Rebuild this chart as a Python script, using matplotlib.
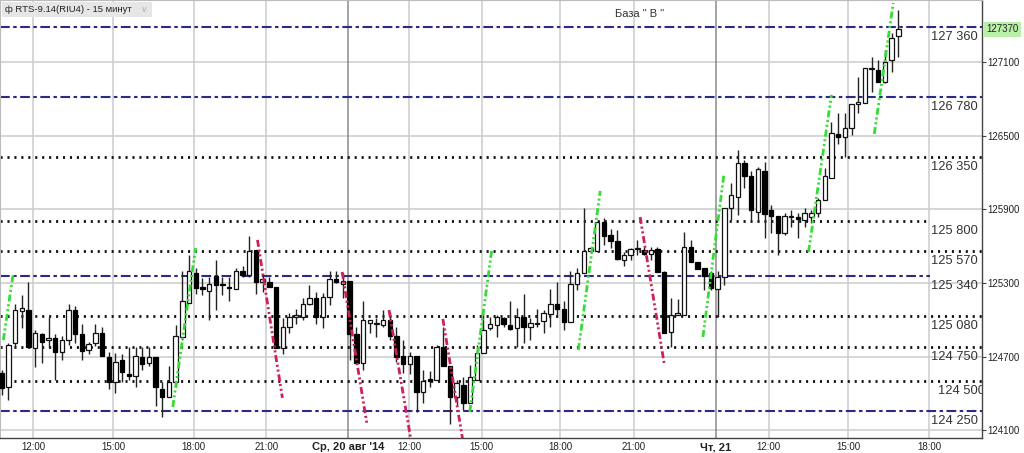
import numpy as np
import matplotlib
matplotlib.use("Agg")
import matplotlib.pyplot as plt
from matplotlib.patches import Rectangle

plt.rcParams['lines.scale_dashes'] = False

# 15-minute candles, RTS-9.14 (RIU4)
opens = [124565, 124450, 124815, 125075, 125080, 124770, 124885, 124835, 124855, 124735,
         124835, 125080, 124885, 124755, 124815, 124895, 124700, 124495, 124675, 124550,
         124545, 124700, 124645, 124700, 124435, 124375, 124495, 124860, 125135, 125385,
         125260, 125235, 125360, 125290, 125265, 125250, 125395, 125365, 125570, 125310,
         125310, 125265, 124770, 124945, 125020, 125020, 125130, 125175, 125020, 125185,
         125330, 125295, 125315, 124885, 124650, 124975, 124965, 124960, 124995, 124865,
         124705, 124640, 124705, 124415, 124510, 124510, 124780, 124620, 124375, 124470,
         124325, 124510, 124730, 124930, 124960, 125015, 124960, 124935, 125020, 124945,
         124965, 124990, 125045, 125130, 125090, 124985, 125295, 125385, 125565, 125565,
         125800, 125690, 125640, 125490, 125530, 125575, 125570, 125535, 125580, 125390,
         124905, 125040, 125040, 125595, 125475, 125420, 125380, 125250, 125350, 125910,
         126005, 126275, 126170, 125880, 126215, 125895, 125845, 125710, 125840, 125840,
         125815, 125840, 125870, 125980, 126160, 126515, 126495, 126565, 126760, 126770,
         127045, 127035, 126940, 127115, 127315]
highs = [124590, 124810, 125130, 125205, 125310, 124920, 124895, 125025, 124885, 124865,
         125130, 125110, 124965, 124820, 124965, 124940, 124735, 124730, 124720, 124775,
         124780, 124780, 124780, 124700, 124495, 124625, 124960, 125395, 125530, 125425,
         125340, 125350, 125490, 125350, 125350, 125420, 125440, 125685, 125570, 125365,
         125350, 125265, 125015, 125055, 125090, 125175, 125285, 125230, 125220, 125395,
         125395, 125380, 125315, 124945, 125150, 125000, 125015, 125080, 125065, 124945,
         124835, 124740, 124705, 124590, 124580, 124795, 124945, 124620, 124510, 124535,
         124635, 124795, 125055, 125020, 125040, 125020, 125150, 125095, 125210, 125015,
         125085, 125080, 125250, 125310, 125150, 125395, 125425, 125910, 125595, 125800,
         125830, 125740, 125735, 125555, 125590, 125655, 125595, 125595, 125595, 125400,
         125175, 125170, 125720, 125650, 125475, 125420, 125395, 125395, 125910, 126115,
         126385, 126305, 126210, 126250, 126290, 125935, 125845, 125870, 125895, 125870,
         125910, 125895, 125995, 126235, 126615, 126685, 126690, 126760, 126980, 127050,
         127145, 127120, 127200, 127335, 127530]
lows = [124390, 124345, 124780, 124935, 124775, 124615, 124645, 124770, 124510, 124675,
        124795, 124810, 124675, 124720, 124790, 124705, 124435, 124400, 124490, 124510,
        124455, 124590, 124620, 124295, 124210, 124375, 124455, 124835, 125135, 125215,
        125205, 124995, 125080, 125205, 125155, 125250, 125350, 125350, 125210, 125230,
        125265, 124770, 124720, 124890, 124965, 125000, 125120, 124970, 124930, 125120,
        125300, 125175, 124675, 124650, 124590, 124890, 124860, 124945, 124835, 124660,
        124565, 124560, 124250, 124325, 124455, 124510, 124620, 124155, 124305, 124265,
        124325, 124510, 124730, 124920, 124860, 124945, 124920, 124780, 124810, 124835,
        124945, 124890, 124945, 125020, 124920, 124985, 125245, 125385, 125545, 125565,
        125610, 125585, 125490, 125440, 125490, 125530, 125530, 125490, 125390, 124895,
        124780, 125040, 125040, 125475, 125415, 125245, 125245, 125025, 125285, 125815,
        125855, 126075, 125815, 125800, 125665, 125705, 125530, 125690, 125760, 125665,
        125760, 125790, 125840, 125980, 126160, 126435, 126330, 126510, 126690, 126770,
        126860, 126940, 126935, 127025, 127145]
closes = [124445, 124795, 125080, 125095, 124775, 124895, 124820, 124855, 124735, 124835,
          125080, 124885, 124750, 124800, 124895, 124705, 124490, 124655, 124575, 124545,
          124705, 124640, 124700, 124450, 124375, 124495, 124865, 125150, 125395, 125260,
          125255, 125290, 125285, 125285, 125260, 125395, 125365, 125565, 125310, 125330,
          125265, 124770, 124945, 125020, 125040, 125130, 125175, 125020, 125185, 125330,
          125310, 125315, 124885, 124650, 124995, 124995, 124965, 125000, 124865, 124700,
          124640, 124705, 124415, 124505, 124505, 124780, 124620, 124375, 124485, 124325,
          124535, 124730, 124920, 124965, 125020, 124965, 124925, 125020, 124940, 124975,
          124965, 125055, 125130, 125090, 124985, 125295, 125385, 125565, 125585, 125800,
          125680, 125640, 125500, 125530, 125575, 125575, 125535, 125570, 125390, 124895,
          125040, 125055, 125595, 125475, 125415, 125360, 125260, 125350, 125910, 126020,
          126275, 126175, 125895, 126230, 125865, 125845, 125710, 125845, 125840, 125820,
          125870, 125870, 125980, 126170, 126525, 126490, 126565, 126760, 126780, 127050,
          127045, 126940, 127105, 127295, 127370]

# support / resistance levels
dotted_levels = [126331, 125804, 125562, 125032, 124779, 124502]
dotted_labels = ["126 350", "125 800", "125 570", "125 080", "124 750", "124 500"]
dotted_full = [True, False, True, True, True, True]
dashdot_levels = [127388, 126815, 125358, 124257]
dashdot_labels = ["127 360", "126 780", "125 340", "124 250"]
dashdot_full = [True, True, False, True]

# trend segments (candle index, price)
green_lines = [(0.25, 124836, 1.74, 125383), (25.57, 124290, 28.99, 125586),
               (69.95, 124249, 73.22, 125562), (86.18, 124755, 89.45, 126051),
               (104.8, 124861, 107.92, 126181), (120.58, 125554, 124.0, 126834),
               (130.4, 126516, 133.24, 127584)]
red_lines = [(38.23, 125652, 41.95, 124364), (50.88, 125391, 54.61, 124143),
             (57.88, 125081, 61.16, 124021), (65.93, 125008, 68.9, 124021),
             (95.41, 125839, 98.99, 124649)]

time_ticks = [4.72, 16.63, 28.7, 39.57, 51.78, 60.86, 71.74, 83.5, 94.5, 106.73, 114.6, 126.5, 138.6]
time_labels = ["12:00", "15:00", "18:00", "21:00", "Ср, 20 авг '14", "12:00", "15:00",
               "18:00", "21:00", "Чт, 21", "12:00", "15:00", "18:00"]
day_ticks = [51.78, 106.73]
price_ticks = [124100, 124700, 125300, 125900, 126500, 127100]
last_price = 127370

fig = plt.figure(figsize=(10.24, 4.53), dpi=100)
ax = fig.add_axes([0, 15 / 453, 982 / 1024, 438 / 453])
ax.set_xlim(-0.25, 146.5)
ax.set_ylim(124037, 127608)

# grid
for p in price_ticks:
    ax.axhline(p, color='#cccccc', lw=1.1, zorder=0)
for t in time_ticks:
    col = '#8a8a8a' if t in day_ticks else '#cccccc'
    ax.axvline(t, color=col, lw=1.1, zorder=0)

# level lines
for lvl, lab, full in zip(dotted_levels, dotted_labels, dotted_full):
    ax.axhline(lvl, xmax=1.0 if full else 0.947, color='#111111', lw=2.0,
               linestyle=(0, (1.5, 3.5)), zorder=1)
    ha, xx = ('left', 139.9) if lab == "124 500" else ('right', 145.9)
    ax.annotate(lab, (xx, lvl), xytext=(0, -7.3), textcoords='offset points', ha=ha,
                va='center', fontsize=9.3, color='#333333', family='Liberation Sans',
                annotation_clip=False, clip_on=True)
for lvl, lab, full in zip(dashdot_levels, dashdot_labels, dashdot_full):
    ax.axhline(lvl, xmax=1.0 if full else 0.947, color='#2b2b86', lw=1.5,
               linestyle=(0, (7, 2.5, 2.5, 2.5)), zorder=1)
    ax.annotate(lab, (145.9, lvl), xytext=(0, -7.3), textcoords='offset points', ha='right',
                va='center', fontsize=9.3, color='#333333', family='Liberation Sans')

# candles
idx = np.arange(len(opens))
o = np.array(opens); h = np.array(highs); l = np.array(lows); c = np.array(closes)
ax.vlines(idx, l, h, color='#222222', lw=1.0, zorder=2)
up = c >= o
bottom = np.minimum(o, c)
height = np.maximum(np.abs(c - o), 10)
ax.bar(idx[up], height[up], bottom=bottom[up], width=0.66, color='white',
       edgecolor='#111111', lw=0.9, zorder=3)
ax.bar(idx[~up], height[~up], bottom=bottom[~up], width=0.66, color='black',
       edgecolor='black', lw=0.9, zorder=3)

# trend lines
for x1, y1, x2, y2 in green_lines:
    ax.plot([x1, x2], [y1, y2], color='#33dd33', lw=2.0,
            linestyle=(0, (5, 2, 1.5, 2, 1.5, 2)), zorder=4)
for x1, y1, x2, y2 in red_lines:
    ax.plot([x1, x2], [y1, y2], color='#cc2255', lw=2.0,
            linestyle=(0, (5, 2, 1.5, 2, 1.5, 2)), zorder=4)

# axes styling
for s in ['top', 'left']:
    ax.spines[s].set_color('#bbbbbb')
for s in ['bottom', 'right']:
    ax.spines[s].set_color('#444444')
    ax.spines[s].set_linewidth(1.0)
ax.yaxis.tick_right()
ax.set_yticks(price_ticks)
ax.set_yticklabels([str(p) for p in price_ticks], fontsize=7,
                   family=['Liberation Sans Narrow', 'Liberation Sans'], color='#222222')
ax.tick_params(axis='y', length=3, pad=1, color='#444444')
ax.set_xticks(time_ticks)
ax.set_xticklabels(time_labels, fontsize=7, family=['Liberation Sans Narrow', 'Liberation Sans'],
                   color='#222222')
for t, lab in zip(ax.get_xticklabels(), time_labels):
    if ',' in lab:
        t.set_fontweight('bold')
        t.set_fontsize(8)
        t.set_family('Liberation Sans')
ax.tick_params(axis='x', length=0, pad=3)

# last price tag
ax.annotate(str(last_price), (146.5, last_price), xytext=(3, 0), textcoords='offset points',
            ha='left', va='center', fontsize=7, family=['Liberation Sans Narrow', 'Liberation Sans'],
            color='#222222', annotation_clip=False,
            bbox=dict(boxstyle='square,pad=0.25', fc='#b9f0a8', ec='none'))

# header texts
ax.add_patch(Rectangle((2 / 982, 1 - 17 / 438), 150 / 982, 15 / 438, transform=ax.transAxes,
                       fc='#e6e6e6', ec='none', zorder=5))
ax.text(5 / 982, 1 - 9.5 / 438, "ф RTS-9.14(RIU4) - 15 минут", transform=ax.transAxes,
        fontsize=6.8, family='Liberation Sans', color='#222222', va='center', ha='left', zorder=6)
ax.text(144 / 982, 1 - 9.5 / 438, "∨", transform=ax.transAxes, fontsize=6.5,
        family=['Liberation Sans', 'DejaVu Sans'], color='#b0b0b0', va='center', ha='center',
        zorder=6)
ax.text(640 / 982, 1 - 14 / 438, 'База " В "', transform=ax.transAxes, fontsize=8,
        family='Liberation Sans', color='#333333', va='center', ha='center')

fig.savefig('out.png', dpi=100)
